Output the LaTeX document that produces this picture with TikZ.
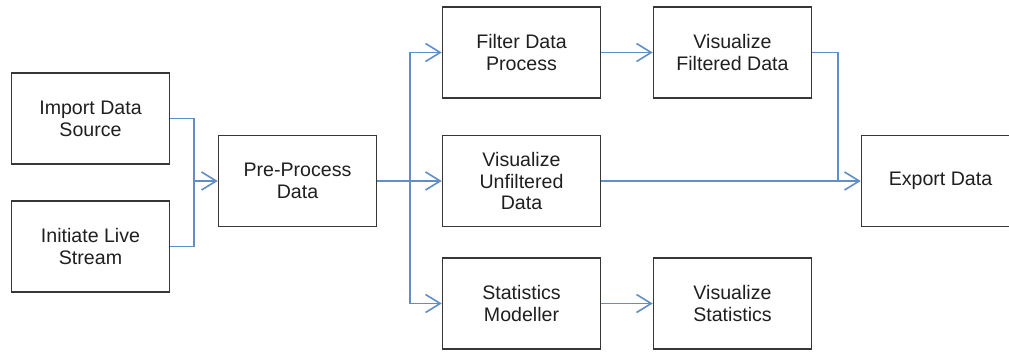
\documentclass[tikz,border=0pt]{standalone}
\usepackage{fontspec}
\setmainfont{Liberation Sans}
\usetikzlibrary{arrows.meta}
\definecolor{linkblue}{RGB}{96,142,200}
\definecolor{boxgray}{RGB}{55,55,55}
\begin{document}
\begin{tikzpicture}[x=0.75pt,y=-0.75pt,
  box/.style={draw=boxgray,line width=1.15pt,minimum width=118.5pt,minimum height=68.5pt,
    inner sep=0pt,align=center,font=\fontsize{14.7}{16.3}\selectfont,text=black!88},
  link/.style={draw=linkblue,line width=1.2pt},
  arr/.style={link,-{Straight Barb[length=11pt,width=13.5pt,line width=1.2pt]}}]
\useasboundingbox (0,0) rectangle (1009,352);
\begin{scope}
\clip (0,0) rectangle (1009,352);
\node[box] (imp) at (90.5,118.5) {Import Data\\Source};
\node[box] (ini) at (90.5,246.5) {Initiate Live\\Stream};
\node[box] (pre) at (297.5,181) {Pre-Process\\Data};
\node[box] (fil) at (521.5,52.5) {Filter Data\\Process};
\node[box] (vun) at (521.5,181) {Visualize\\Unfiltered\\Data};
\node[box] (sta) at (521.5,303.5) {Statistics\\Modeller};
\node[box] (vfi) at (732.5,52.5) {Visualize\\Filtered Data};
\node[box] (vst) at (732.5,303.5) {Visualize\\Statistics};
\node[box] (exp) at (940.5,181) {Export Data};
\end{scope}
\coordinate (j1) at (194,181);
\coordinate (j2) at (410,181);
\coordinate (j3) at (838,181);
\draw[link] (imp.east) -| (j1);
\draw[link] (ini.east) -| (j1);
\draw[arr] (j1) -- (pre.west);
\draw[arr] (pre.east) -- (vun.west);
\draw[arr] (j2) |- (fil.west);
\draw[arr] (j2) |- (sta.west);
\draw[arr] (fil.east) -- (vfi.west);
\draw[arr] (sta.east) -- (vst.west);
\draw[arr] (vun.east) -- (exp.west);
\draw[link] (vfi.east) -| (j3);
\end{tikzpicture}
\end{document}
